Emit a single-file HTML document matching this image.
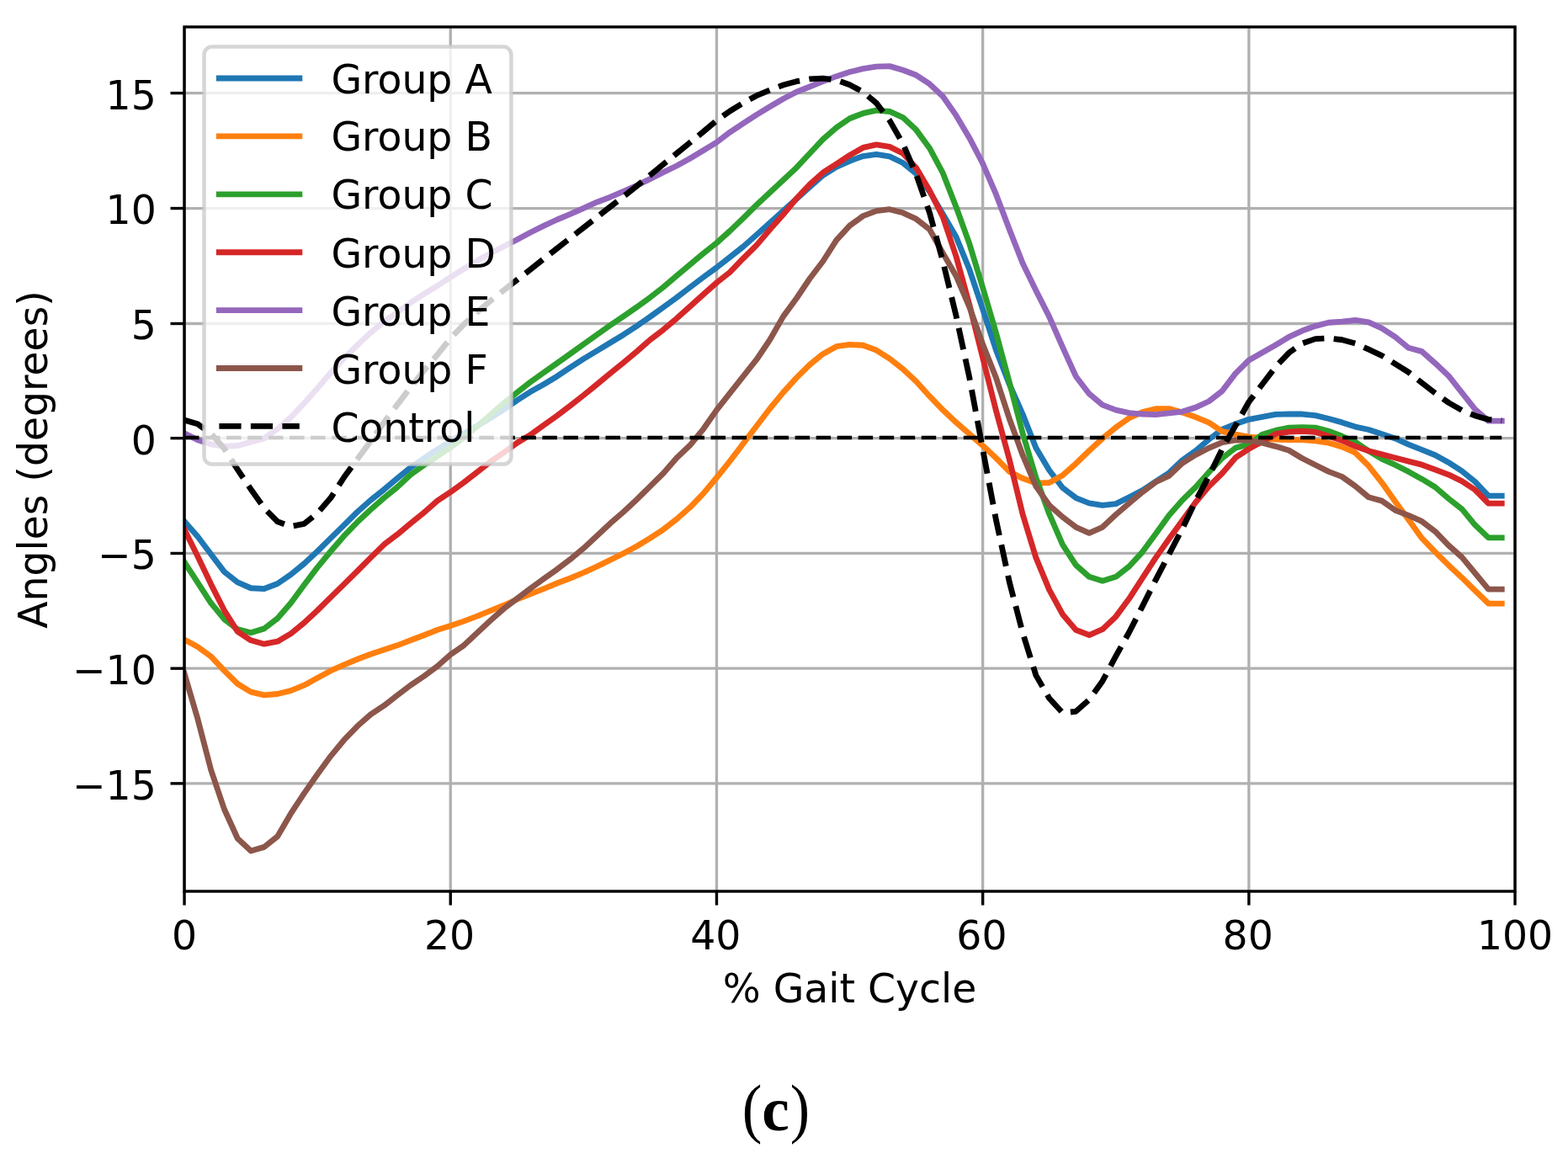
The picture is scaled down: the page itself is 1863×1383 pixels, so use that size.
<!DOCTYPE html>
<html lang="en"><head><meta charset="utf-8"><title>Gait cycle angles (c)</title>
<style>html,body{margin:0;padding:0;background:#fff;}body{width:1863px;height:1383px;overflow:hidden;}svg{display:block;}text{font-family:"DejaVu Sans","Liberation Sans",sans-serif;fill:#000;}text.cap{font-family:"Liberation Serif","DejaVu Serif",serif;}</style></head><body>
<svg width="1863" height="1383" viewBox="0 0 1863 1383">
<rect x="0" y="0" width="1863" height="1383" fill="#ffffff"/>
<defs><clipPath id="ax"><rect x="219.05" y="32.00" width="1581.00" height="1027.00"/></clipPath></defs>
<g stroke="#b0b0b0" stroke-width="3.30" fill="none">
<line x1="219.05" y1="32.00" x2="219.05" y2="1059.00"/>
<line x1="535.25" y1="32.00" x2="535.25" y2="1059.00"/>
<line x1="851.45" y1="32.00" x2="851.45" y2="1059.00"/>
<line x1="1167.65" y1="32.00" x2="1167.65" y2="1059.00"/>
<line x1="1483.85" y1="32.00" x2="1483.85" y2="1059.00"/>
<line x1="1800.05" y1="32.00" x2="1800.05" y2="1059.00"/>
<line x1="219.05" y1="930.88" x2="1800.05" y2="930.88"/>
<line x1="219.05" y1="794.20" x2="1800.05" y2="794.20"/>
<line x1="219.05" y1="657.45" x2="1800.05" y2="657.45"/>
<line x1="219.05" y1="520.65" x2="1800.05" y2="520.65"/>
<line x1="219.05" y1="384.50" x2="1800.05" y2="384.50"/>
<line x1="219.05" y1="247.55" x2="1800.05" y2="247.55"/>
<line x1="219.05" y1="110.62" x2="1800.05" y2="110.62"/>
</g>
<g stroke="#000" stroke-width="3.40" fill="none">
<line x1="219.05" y1="1059.00" x2="219.05" y2="1075.54"/>
<line x1="535.25" y1="1059.00" x2="535.25" y2="1075.54"/>
<line x1="851.45" y1="1059.00" x2="851.45" y2="1075.54"/>
<line x1="1167.65" y1="1059.00" x2="1167.65" y2="1075.54"/>
<line x1="1483.85" y1="1059.00" x2="1483.85" y2="1075.54"/>
<line x1="1800.05" y1="1059.00" x2="1800.05" y2="1075.54"/>
<line x1="202.51" y1="930.88" x2="219.05" y2="930.88"/>
<line x1="202.51" y1="794.20" x2="219.05" y2="794.20"/>
<line x1="202.51" y1="657.45" x2="219.05" y2="657.45"/>
<line x1="202.51" y1="520.65" x2="219.05" y2="520.65"/>
<line x1="202.51" y1="384.50" x2="219.05" y2="384.50"/>
<line x1="202.51" y1="247.55" x2="219.05" y2="247.55"/>
<line x1="202.51" y1="110.62" x2="219.05" y2="110.62"/>
</g>
<g font-size="47.30" text-anchor="middle">
<text x="219.05" y="1127.50">0</text>
<text x="534.05" y="1127.50">20</text>
<text x="850.25" y="1127.50">40</text>
<text x="1166.45" y="1127.50">60</text>
<text x="1482.65" y="1127.50">80</text>
<text x="1800.05" y="1127.50">100</text>
</g>
<g font-size="47.30" text-anchor="end">
<text x="185.80" y="949.78">−15</text>
<text x="185.80" y="813.10">−10</text>
<text x="185.80" y="676.35">−5</text>
<text x="185.80" y="539.55">0</text>
<text x="185.80" y="403.40">5</text>
<text x="185.80" y="266.45">10</text>
<text x="185.80" y="129.52">15</text>
</g>
<text x="1009.50" y="1191.40" font-size="47.30" text-anchor="middle">% Gait Cycle</text>
<text transform="translate(56.00 546.00) rotate(-90)" font-size="47.30" text-anchor="middle">Angles (degrees)</text>
<g clip-path="url(#ax)" fill="none" stroke-width="6.85" stroke-linejoin="round" stroke-linecap="butt">
<path d="M219.05 619.45 L234.86 637.50 L250.67 658.55 L266.48 679.33 L282.29 691.91 L298.10 698.75 L313.91 699.57 L329.72 693.55 L345.53 682.61 L361.34 669.76 L377.15 655.00 L392.96 639.41 L408.77 623.83 L424.58 608.24 L440.39 594.30 L456.20 581.72 L472.01 568.33 L487.82 555.47 L503.63 544.54 L519.44 534.15 L535.25 524.30 L551.06 515.28 L566.87 505.99 L582.68 496.69 L598.49 486.57 L614.30 475.64 L630.11 465.52 L645.92 456.77 L661.73 447.20 L677.54 436.54 L693.35 426.42 L709.16 416.85 L724.97 407.28 L740.78 397.71 L756.59 387.32 L772.40 376.38 L788.21 364.90 L804.02 353.42 L819.83 341.39 L835.64 329.36 L851.45 317.87 L867.26 305.57 L883.07 292.99 L898.88 279.05 L914.69 264.83 L930.50 250.61 L946.31 236.39 L962.12 222.18 L977.93 208.23 L993.74 198.39 L1009.55 191.28 L1025.36 185.54 L1041.17 183.35 L1056.98 185.81 L1072.79 193.47 L1088.60 206.32 L1104.41 227.37 L1120.22 254.17 L1136.03 281.51 L1151.84 320.33 L1167.65 367.36 L1183.46 416.03 L1199.27 456.50 L1215.08 492.04 L1230.89 532.23 L1246.70 558.76 L1262.51 579.54 L1278.32 591.57 L1294.13 597.85 L1309.94 600.32 L1325.75 598.67 L1341.56 590.75 L1357.37 582.54 L1373.18 572.15 L1388.99 561.76 L1404.80 546.72 L1420.61 535.51 L1436.42 522.12 L1452.23 510.09 L1468.04 503.80 L1483.85 498.33 L1499.66 495.32 L1515.47 492.31 L1531.28 492.04 L1547.09 492.04 L1562.90 493.68 L1578.71 497.51 L1594.52 501.88 L1610.33 507.08 L1626.14 510.50 L1641.95 515.69 L1657.76 520.89 L1673.57 528.13 L1689.38 534.42 L1705.19 540.71 L1721.00 549.46 L1736.81 559.58 L1752.62 572.43 L1768.43 589.11 L1784.24 589.11" stroke="#1f77b4" stroke-linecap="square"/>
<path d="M219.05 759.99 L234.86 768.47 L250.67 779.95 L266.48 796.90 L282.29 812.49 L298.10 822.06 L313.91 825.89 L329.72 824.52 L345.53 820.69 L361.34 814.13 L377.15 805.38 L392.96 796.90 L408.77 789.80 L424.58 783.23 L440.39 777.22 L456.20 772.02 L472.01 766.83 L487.82 760.81 L503.63 754.80 L519.44 748.51 L535.25 743.59 L551.06 738.12 L566.87 732.10 L582.68 725.54 L598.49 719.25 L614.30 712.14 L630.11 705.86 L645.92 699.57 L661.73 693.00 L677.54 686.99 L693.35 680.43 L709.16 673.04 L724.97 665.39 L740.78 657.46 L756.59 648.98 L772.40 639.41 L788.21 629.02 L804.02 616.72 L819.83 602.78 L835.64 586.37 L851.45 567.50 L867.26 547.82 L883.07 527.04 L898.88 506.26 L914.69 485.48 L930.50 466.34 L946.31 448.84 L962.12 433.26 L977.93 420.40 L993.74 411.66 L1009.55 409.47 L1025.36 410.29 L1041.17 416.03 L1056.98 426.15 L1072.79 438.45 L1088.60 453.22 L1104.41 470.71 L1120.22 487.12 L1136.03 501.88 L1151.84 515.69 L1167.65 529.50 L1183.46 544.26 L1199.27 560.40 L1215.08 568.33 L1230.89 574.07 L1246.70 573.52 L1262.51 564.77 L1278.32 550.83 L1294.13 535.51 L1309.94 520.89 L1325.75 507.90 L1341.56 496.69 L1357.37 489.58 L1373.18 485.75 L1388.99 485.62 L1404.80 490.13 L1420.61 495.60 L1436.42 502.16 L1452.23 512.55 L1468.04 516.10 L1483.85 519.11 L1499.66 520.48 L1515.47 522.12 L1531.28 522.66 L1547.09 522.66 L1562.90 523.76 L1578.71 526.22 L1594.52 530.87 L1610.33 537.98 L1626.14 553.56 L1641.95 573.52 L1657.76 595.94 L1673.57 617.54 L1689.38 639.41 L1705.19 655.82 L1721.00 671.40 L1736.81 686.17 L1752.62 701.75 L1768.43 717.07 L1784.24 717.07" stroke="#ff7f0e" stroke-linecap="square"/>
<path d="M219.05 667.85 L234.86 692.18 L250.67 716.52 L266.48 735.66 L282.29 747.69 L298.10 751.79 L313.91 746.87 L329.72 734.84 L345.53 716.52 L361.34 694.92 L377.15 674.14 L392.96 655.00 L408.77 636.68 L424.58 620.27 L440.39 605.51 L456.20 591.57 L472.01 578.72 L487.82 563.95 L503.63 552.74 L519.44 542.08 L535.25 531.69 L551.06 519.66 L566.87 506.53 L582.68 492.86 L598.49 479.19 L614.30 466.34 L630.11 454.04 L645.92 442.83 L661.73 431.62 L677.54 420.40 L693.35 408.92 L709.16 397.71 L724.97 386.50 L740.78 375.84 L756.59 364.90 L772.40 353.42 L788.21 341.11 L804.02 327.72 L819.83 314.32 L835.64 301.19 L851.45 288.62 L867.26 274.40 L883.07 259.22 L898.88 243.50 L914.69 228.74 L930.50 213.97 L946.31 199.21 L962.12 182.26 L977.93 165.30 L993.74 151.63 L1009.55 140.70 L1025.36 134.68 L1041.17 131.13 L1056.98 132.49 L1072.79 139.60 L1088.60 154.37 L1104.41 175.97 L1120.22 205.50 L1136.03 245.96 L1151.84 289.71 L1167.65 341.66 L1183.46 395.52 L1199.27 454.04 L1215.08 514.73 L1230.89 567.50 L1246.70 610.71 L1262.51 647.07 L1278.32 671.40 L1294.13 685.35 L1309.94 690.27 L1325.75 685.35 L1341.56 673.04 L1357.37 655.82 L1373.18 634.22 L1388.99 612.35 L1404.80 594.30 L1420.61 578.72 L1436.42 560.94 L1452.23 544.26 L1468.04 532.10 L1483.85 527.86 L1499.66 516.38 L1515.47 511.45 L1531.28 508.17 L1547.09 507.63 L1562.90 508.17 L1578.71 512.27 L1594.52 518.29 L1610.33 525.12 L1626.14 535.79 L1641.95 545.36 L1657.76 552.47 L1673.57 560.40 L1689.38 569.15 L1705.19 578.72 L1721.00 592.39 L1736.81 604.69 L1752.62 623.83 L1768.43 638.87 L1784.24 638.87" stroke="#2ca02c" stroke-linecap="square"/>
<path d="M219.05 629.02 L234.86 661.01 L250.67 694.10 L266.48 725.27 L282.29 750.42 L298.10 760.81 L313.91 765.19 L329.72 762.18 L345.53 752.88 L361.34 740.03 L377.15 725.27 L392.96 709.68 L408.77 694.10 L424.58 678.51 L440.39 662.65 L456.20 647.07 L472.01 635.04 L487.82 621.92 L503.63 609.06 L519.44 595.12 L535.25 584.73 L551.06 573.25 L566.87 560.94 L582.68 548.64 L598.49 537.70 L614.30 526.22 L630.11 516.65 L645.92 505.17 L661.73 493.95 L677.54 481.92 L693.35 469.62 L709.16 456.77 L724.97 443.65 L740.78 430.79 L756.59 417.67 L772.40 403.73 L788.21 391.70 L804.02 378.30 L819.83 364.08 L835.64 349.86 L851.45 335.92 L867.26 323.34 L883.07 306.94 L898.88 291.35 L914.69 272.76 L930.50 254.99 L946.31 235.85 L962.12 219.17 L977.93 204.95 L993.74 194.83 L1009.55 184.44 L1025.36 175.42 L1041.17 171.87 L1056.98 174.33 L1072.79 182.26 L1088.60 199.48 L1104.41 226.28 L1120.22 257.72 L1136.03 304.75 L1151.84 362.17 L1167.65 425.05 L1183.46 487.94 L1199.27 545.90 L1215.08 610.98 L1230.89 662.65 L1246.70 700.93 L1262.51 729.92 L1278.32 748.51 L1294.13 754.52 L1309.94 747.69 L1325.75 732.65 L1341.56 711.32 L1357.37 686.99 L1373.18 662.65 L1388.99 640.23 L1404.80 618.63 L1420.61 596.76 L1436.42 577.89 L1452.23 562.31 L1468.04 543.72 L1483.85 533.33 L1499.66 524.85 L1515.47 515.69 L1531.28 513.09 L1547.09 512.27 L1562.90 513.37 L1578.71 518.29 L1594.52 523.48 L1610.33 530.32 L1626.14 535.79 L1641.95 539.89 L1657.76 543.99 L1673.57 548.09 L1689.38 552.19 L1705.19 557.94 L1721.00 563.95 L1736.81 571.61 L1752.62 582.00 L1768.43 598.13 L1784.24 598.13" stroke="#d62728" stroke-linecap="square"/>
<path d="M219.05 514.84 L234.86 522.66 L250.67 527.86 L266.48 530.32 L282.29 529.50 L298.10 525.12 L313.91 520.89 L329.72 509.54 L345.53 495.87 L361.34 479.19 L377.15 461.14 L392.96 442.83 L408.77 425.60 L424.58 410.01 L440.39 395.25 L456.20 382.13 L472.01 370.92 L487.82 359.71 L503.63 349.32 L519.44 339.75 L535.25 329.36 L551.06 319.51 L566.87 309.67 L582.68 300.92 L598.49 292.72 L614.30 284.79 L630.11 276.31 L645.92 268.38 L661.73 261.00 L677.54 254.44 L693.35 247.33 L709.16 240.22 L724.97 234.21 L740.78 227.37 L756.59 220.26 L772.40 212.61 L788.21 204.68 L804.02 197.02 L819.83 188.27 L835.64 178.70 L851.45 169.13 L867.26 157.10 L883.07 146.71 L898.88 136.32 L914.69 126.75 L930.50 117.46 L946.31 109.25 L962.12 102.96 L977.93 96.68 L993.74 90.66 L1009.55 85.47 L1025.36 81.64 L1041.17 79.18 L1056.98 78.63 L1072.79 83.28 L1088.60 89.29 L1104.41 99.68 L1120.22 114.45 L1136.03 137.14 L1151.84 163.94 L1167.65 194.29 L1183.46 230.92 L1199.27 272.46 L1215.08 312.68 L1230.89 345.21 L1246.70 376.38 L1262.51 412.48 L1278.32 447.20 L1294.13 467.98 L1309.94 481.10 L1325.75 487.12 L1341.56 490.67 L1357.37 492.04 L1373.18 492.59 L1388.99 490.95 L1404.80 489.03 L1420.61 484.11 L1436.42 476.73 L1452.23 464.43 L1468.04 443.65 L1483.85 428.06 L1499.66 419.04 L1515.47 410.01 L1531.28 400.45 L1547.09 393.06 L1562.90 387.32 L1578.71 383.22 L1594.52 382.13 L1610.33 380.49 L1626.14 382.95 L1641.95 390.06 L1657.76 400.45 L1673.57 413.30 L1689.38 417.67 L1705.19 431.62 L1721.00 446.38 L1736.81 466.34 L1752.62 486.30 L1768.43 500.11 L1784.24 500.11" stroke="#9467bd" stroke-linecap="square"/>
<path d="M219.05 800.19 L234.86 854.05 L250.67 914.75 L266.48 961.50 L282.29 996.23 L298.10 1010.99 L313.91 1006.34 L329.72 993.77 L345.53 966.70 L361.34 942.64 L377.15 919.94 L392.96 898.34 L408.77 879.20 L424.58 862.80 L440.39 848.85 L456.20 838.46 L472.01 826.16 L487.82 814.13 L503.63 803.47 L519.44 791.71 L535.25 777.77 L551.06 766.83 L566.87 752.06 L582.68 737.30 L598.49 723.35 L614.30 711.32 L630.11 699.29 L645.92 687.81 L661.73 676.60 L677.54 664.57 L693.35 651.44 L709.16 636.68 L724.97 621.92 L740.78 608.24 L756.59 593.48 L772.40 577.89 L788.21 562.31 L804.02 543.99 L819.83 529.08 L835.64 509.83 L851.45 487.15 L867.26 467.16 L883.07 447.20 L898.88 427.24 L914.69 403.73 L930.50 376.11 L946.31 354.51 L962.12 331.00 L977.93 310.22 L993.74 285.34 L1009.55 268.11 L1025.36 256.63 L1041.17 250.61 L1056.98 248.70 L1072.79 252.80 L1088.60 260.18 L1104.41 272.48 L1120.22 300.65 L1136.03 327.99 L1151.84 364.90 L1167.65 408.92 L1183.46 448.84 L1199.27 497.51 L1215.08 540.71 L1230.89 577.89 L1246.70 600.32 L1262.51 614.26 L1278.32 626.29 L1294.13 633.40 L1309.94 626.29 L1325.75 611.53 L1341.56 597.85 L1357.37 584.73 L1373.18 572.70 L1388.99 565.32 L1404.80 550.28 L1420.61 540.44 L1436.42 532.23 L1452.23 525.67 L1468.04 522.94 L1483.85 523.21 L1499.66 526.22 L1515.47 530.32 L1531.28 534.97 L1547.09 544.54 L1562.90 552.47 L1578.71 560.40 L1594.52 566.41 L1610.33 577.62 L1626.14 590.75 L1641.95 595.12 L1657.76 606.33 L1673.57 612.35 L1689.38 619.45 L1705.19 631.49 L1721.00 647.89 L1736.81 661.83 L1752.62 680.97 L1768.43 700.11 L1784.24 700.11" stroke="#8c564b" stroke-linecap="square"/>
<path d="M219.05 499.15 L234.86 503.80 L250.67 515.12 L266.48 533.08 L282.29 557.91 L298.10 581.31 L313.91 603.66 L329.72 619.73 L345.53 625.47 L361.34 622.46 L377.15 609.61 L392.96 591.57 L408.77 567.08 L424.58 545.47 L440.39 524.15 L456.20 501.99 L472.01 480.83 L487.82 460.24 L503.63 440.36 L519.44 421.68 L535.25 402.02 L551.06 385.59 L566.87 370.97 L582.68 357.51 L598.49 344.84 L614.30 332.56 L630.11 320.28 L645.92 307.67 L661.73 295.20 L677.54 282.87 L693.35 270.57 L709.16 258.14 L724.97 245.73 L740.78 233.52 L756.59 221.06 L772.40 208.10 L788.21 195.14 L804.02 182.25 L819.83 169.39 L835.64 156.53 L851.45 143.09 L867.26 131.95 L883.07 122.38 L898.88 113.63 L914.69 107.07 L930.50 101.05 L946.31 96.68 L962.12 93.94 L977.93 93.12 L993.74 95.04 L1009.55 100.78 L1025.36 109.25 L1041.17 122.38 L1056.98 143.16 L1072.79 170.77 L1088.60 207.41 L1104.41 252.52 L1120.22 310.22 L1136.03 375.29 L1151.84 448.84 L1167.65 533.87 L1183.46 617.81 L1199.27 691.36 L1215.08 751.79 L1230.89 802.37 L1246.70 829.71 L1262.51 846.94 L1278.32 845.30 L1294.13 831.36 L1309.94 809.21 L1325.75 779.68 L1341.56 751.24 L1357.37 720.35 L1373.18 688.90 L1388.99 658.55 L1404.80 628.20 L1420.61 595.12 L1436.42 565.59 L1452.23 533.33 L1468.04 505.44 L1483.85 477.55 L1499.66 456.77 L1515.47 435.99 L1531.28 419.31 L1547.09 408.10 L1562.90 402.63 L1578.71 401.81 L1594.52 403.73 L1610.33 408.10 L1626.14 415.21 L1641.95 422.59 L1657.76 432.44 L1673.57 442.28 L1689.38 454.86 L1705.19 467.16 L1721.00 478.37 L1736.81 487.39 L1752.62 493.95 L1768.43 498.33 L1784.24 499.56" stroke="#000" stroke-dasharray="26.178 11.320"/>
<line x1="219.05" y1="520.00" x2="1784.24" y2="520.00" stroke="#000" stroke-width="4.50" stroke-dasharray="17.47 7.55"/>
</g>
<rect x="219.05" y="32.00" width="1581.00" height="1027.00" fill="none" stroke="#000" stroke-width="3.40" stroke-linejoin="miter"/>
<rect x="242.50" y="55.60" width="364.90" height="496.00" rx="9.4" ry="9.4" fill="#ffffff" fill-opacity="0.8" stroke="#cccccc" stroke-opacity="0.8" stroke-width="4.5"/>
<line x1="256.90" y1="93.00" x2="359.30" y2="93.00" stroke="#1f77b4" stroke-width="6.85"/>
<text x="393.40" y="110.60" font-size="47.30">Group A</text>
<line x1="256.90" y1="161.90" x2="359.30" y2="161.90" stroke="#ff7f0e" stroke-width="6.85"/>
<text x="393.40" y="178.80" font-size="47.30">Group B</text>
<line x1="256.90" y1="230.80" x2="359.30" y2="230.80" stroke="#2ca02c" stroke-width="6.85"/>
<text x="393.40" y="247.70" font-size="47.30">Group C</text>
<line x1="256.90" y1="299.70" x2="359.30" y2="299.70" stroke="#d62728" stroke-width="6.85"/>
<text x="393.40" y="318.00" font-size="47.30">Group D</text>
<line x1="256.90" y1="368.60" x2="359.30" y2="368.60" stroke="#9467bd" stroke-width="6.85"/>
<text x="393.40" y="387.30" font-size="47.30">Group E</text>
<line x1="256.90" y1="437.50" x2="359.30" y2="437.50" stroke="#8c564b" stroke-width="6.85"/>
<text x="393.40" y="456.20" font-size="47.30">Group F</text>
<line x1="260.40" y1="506.40" x2="355.80" y2="506.40" stroke="#000000" stroke-width="6.85" stroke-dasharray="26.18 11.32"/>
<text x="393.40" y="525.10" font-size="47.30">Control</text>
<text class="cap" transform="translate(0 1342.60) scale(1 1.077)" font-size="72"><tspan x="881.80" y="0" textLength="23.64" lengthAdjust="spacingAndGlyphs">(</tspan><tspan x="905.34" y="0.51" font-size="69.46" font-weight="bold" textLength="32.52" lengthAdjust="spacingAndGlyphs">c</tspan><tspan x="938.68" y="0" textLength="23.33" lengthAdjust="spacingAndGlyphs">)</tspan></text>
</svg></body></html>
